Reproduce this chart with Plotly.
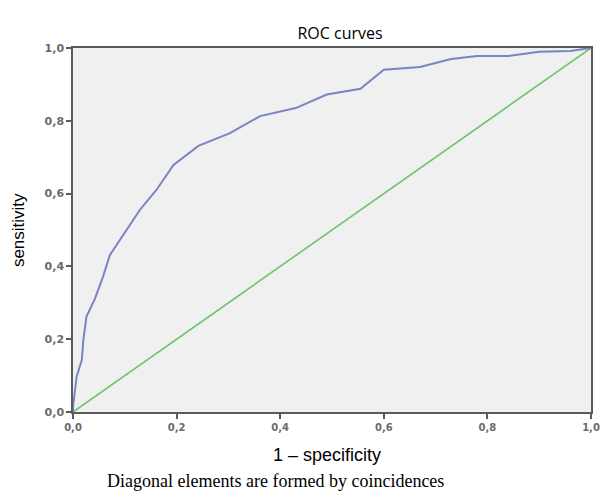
import plotly.graph_objects as go

fpr = [0.0, 0.0005, 0.003, 0.007, 0.012, 0.017, 0.02, 0.026, 0.042, 0.058, 0.071, 0.091, 0.104, 0.129,
       0.161, 0.194, 0.242, 0.303, 0.361, 0.43, 0.49, 0.555, 0.60, 0.67, 0.73, 0.78, 0.84, 0.90, 0.96, 1.0]
tpr = [0.0, 0.02, 0.05, 0.097, 0.12, 0.143, 0.198, 0.262, 0.31, 0.372, 0.431, 0.473, 0.50, 0.555,
       0.61, 0.679, 0.731, 0.766, 0.813, 0.835, 0.872, 0.888, 0.94, 0.948, 0.97, 0.978, 0.978, 0.99, 0.992, 1.0]
diag = [0.0, 1.0]
ticks = [0.0, 0.2, 0.4, 0.6, 0.8, 1.0]

fig = go.Figure()
fig.add_trace(go.Scatter(x=diag, y=diag, mode="lines", line=dict(color="#6cc46e", width=1.6), showlegend=False))
fig.add_trace(go.Scatter(x=fpr, y=tpr, mode="lines", line=dict(color="#7a84c2", width=2), showlegend=False))

axis_common = dict(
    range=[0, 1], tickvals=ticks, tickformat=".1f", showgrid=False, zeroline=False,
    showline=True, linecolor="#5a5a5a", linewidth=1.5, mirror=True, automargin=False,
    ticks="outside", ticklen=5, tickwidth=1.5, tickcolor="#5a5a5a",
)
fig.update_xaxes(**axis_common, tickfont=dict(family="DejaVu Sans", size=10, color="#6a6a6a", weight="bold"))
fig.update_yaxes(**axis_common, tickfont=dict(family="DejaVu Sans", size=11, color="#6a6a6a", weight="bold"))

fig.update_layout(
    width=600, height=497,
    margin=dict(l=73, r=9, t=48, b=85),
    paper_bgcolor="white", plot_bgcolor="#f0f0f0",
    separators=",.",
    title=dict(text="ROC curves", x=340 / 600, xanchor="center", y=1 - 33 / 497, yanchor="middle",
               font=dict(family="Open Sans", size=16, color="black")),
    annotations=[
        dict(text="sensitivity", xref="paper", yref="paper", x=-0.106, y=0.5, textangle=-90,
             showarrow=False, font=dict(family="Liberation Sans", size=17, color="black"),
             xanchor="center", yanchor="middle"),
        dict(text="1 – specificity", xref="paper", yref="paper", x=0.49, y=-0.118,
             showarrow=False, font=dict(family="Liberation Sans", size=18, color="black"),
             xanchor="center", yanchor="middle"),
        dict(text="Diagonal elements are formed by coincidences", xref="paper", yref="paper", x=0.39, y=-0.19,
             showarrow=False, font=dict(family="Liberation Serif", size=18, color="black"),
             xanchor="center", yanchor="middle"),
    ],
)
fig.write_html(
    "out.html",
    config={"displayModeBar": False},
    post_script="document.body.style.margin='0';document.body.style.overflow='hidden';",
)
